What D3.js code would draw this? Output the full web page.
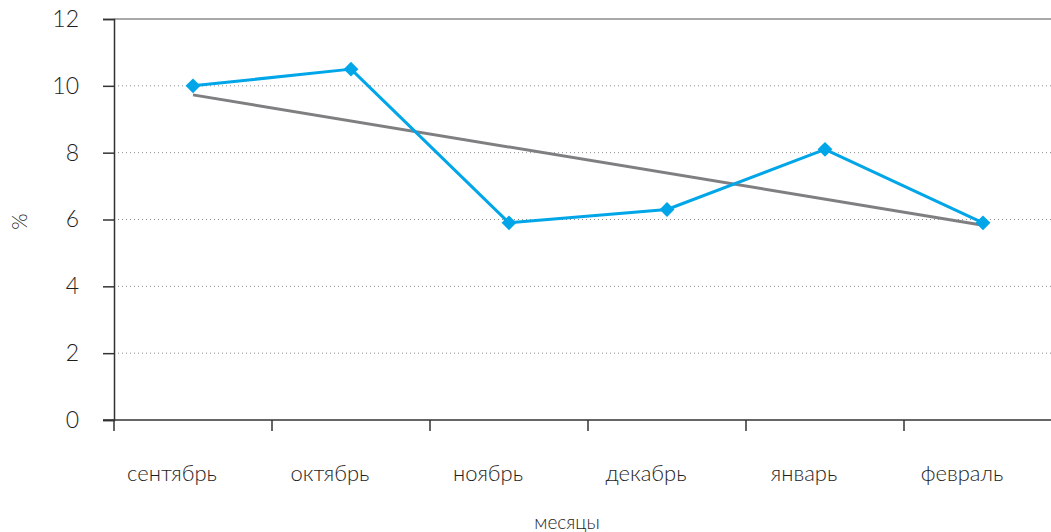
<!DOCTYPE html>
<html>
<head>
<meta charset="utf-8">
<script src="https://cdn.jsdelivr.net/npm/d3@7"></script>
<style>
  html, body { margin: 0; padding: 0; background: #fff; }
  svg { display: block; font-family: "Lato", "Noto Sans", sans-serif; font-weight: 300; }
</style>
</head>
<body>
<svg id="chart" width="1051" height="532"></svg>
<script>
// Monthly share, %
const months = ["сентябрь", "октябрь", "ноябрь", "декабрь", "январь", "февраль"];
const values = [10.0, 10.5, 5.9, 6.3, 8.1, 5.9];
// Linear trend: values at first and last month
const trendMonths = ["сентябрь", "февраль"];
const trendValues = [9.73, 5.83];
const yTicks = [0, 2, 4, 6, 8, 10, 12];

const svg = d3.select("#chart");
const plotLeft = 114, plotTop = 19, plotBottom = 420, band = 158;
const plotRight = plotLeft + band * months.length;

const x = d3.scaleBand().domain(months).range([plotLeft, plotRight]);
const y = d3.scaleLinear().domain([0, 12]).range([plotBottom, plotTop]);
const cx = d => x(d) + x.bandwidth() / 2;

// dotted gridlines
svg.append("g").selectAll("line")
  .data(yTicks.filter(t => t > 0 && t < 12))
  .join("line")
  .attr("x1", plotLeft).attr("x2", plotRight)
  .attr("y1", d => y(d)).attr("y2", d => y(d))
  .attr("stroke", "#8a8a8a").attr("stroke-width", 1)
  .attr("stroke-dasharray", "1,3");

// top border
svg.append("line")
  .attr("x1", plotLeft).attr("x2", plotRight)
  .attr("y1", y(12)).attr("y2", y(12))
  .attr("stroke", "#555").attr("stroke-width", 1.2);

// y axis
const yAxis = d3.axisLeft(y).tickValues(yTicks).tickSize(11).tickPadding(24);
const gy = svg.append("g").attr("transform", `translate(${plotLeft},0)`).call(yAxis);
gy.select(".domain").attr("stroke", "#333").attr("stroke-width", 1.5);
gy.selectAll(".tick line").attr("stroke", "#333").attr("stroke-width", 1.5);
gy.selectAll(".tick text").attr("font-size", 23).attr("fill", "#1e1e1e")
  .attr("font-family", "Lato, 'Noto Sans', sans-serif").attr("font-weight", 300);

// x axis with ticks at band boundaries
const gx = svg.append("g").attr("transform", `translate(0,${plotBottom})`);
gx.append("line").attr("x1", plotLeft - 11).attr("x2", plotRight)
  .attr("stroke", "#333").attr("stroke-width", 1.5);
gx.selectAll("line.tk")
  .data(months)
  .join("line").attr("class", "tk")
  .attr("x1", d => x(d)).attr("x2", d => x(d))
  .attr("y1", 0).attr("y2", 11)
  .attr("stroke", "#333").attr("stroke-width", 1.5);
gx.selectAll("text")
  .data(months)
  .join("text")
  .attr("x", d => cx(d) - 21).attr("y", 61)
  .attr("text-anchor", "middle")
  .attr("font-size", 22).attr("fill", "#1e1e1e")
  .text(d => d);

// axis titles
svg.append("text")
  .attr("transform", `translate(27,${(plotTop + plotBottom) / 2 + 2}) rotate(-90)`)
  .attr("text-anchor", "middle")
  .attr("font-size", 21).attr("fill", "#1e1e1e")
  .text("%");
svg.append("text")
  .attr("x", 567).attr("y", 529)
  .attr("text-anchor", "middle")
  .attr("font-size", 19).attr("fill", "#1e1e1e")
  .text("месяцы");

// trend line
svg.append("path")
  .datum(trendMonths.map((m, i) => [cx(m), y(trendValues[i])]))
  .attr("d", d3.line())
  .attr("fill", "none").attr("stroke", "#7f7f82").attr("stroke-width", 3);

// data line
const pts = months.map((m, i) => [cx(m), y(values[i])]);
svg.append("path")
  .datum(pts)
  .attr("d", d3.line())
  .attr("fill", "none").attr("stroke", "#00a6e8").attr("stroke-width", 3)
  .attr("stroke-linejoin", "round");

// diamond markers
svg.append("g").selectAll("path")
  .data(pts)
  .join("path")
  .attr("transform", d => `translate(${d[0]},${d[1]}) rotate(45)`)
  .attr("d", d3.symbol().type(d3.symbolSquare).size(110))
  .attr("fill", "#00a6e8");
</script>
</body>
</html>
